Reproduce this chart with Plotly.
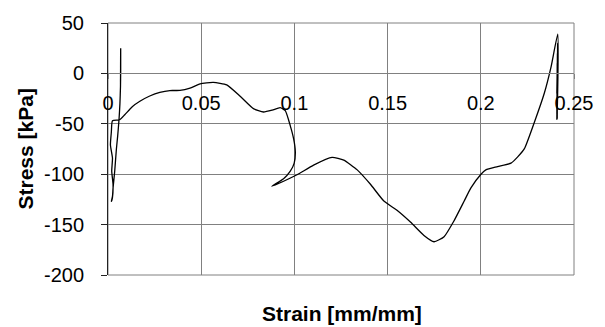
import plotly.graph_objects as go

# Strain [mm/mm] and stress [kPa]
strain = [
    0.0068, 0.0068, 0.0067, 0.0068, 0.0067, 0.0068, 0.0067, 0.0068, 0.0067,
    0.0068, 0.0067, 0.0068, 0.0067,
    0.0064, 0.0059, 0.0052, 0.0045, 0.0036, 0.0027, 0.0024, 0.0018,
    0.0024, 0.0027, 0.0020, 0.0024, 0.0013, 0.0018, 0.0024,
    0.0063, 0.0090, 0.0130, 0.0171, 0.0224, 0.0278, 0.0332, 0.0386, 0.0440,
    0.0494, 0.0565, 0.0637, 0.0709, 0.0780, 0.0834, 0.0881, 0.0924,
    0.0951, 0.0978, 0.0996, 0.1005, 0.0999, 0.0978, 0.0942, 0.0879,
    0.0942, 0.1014, 0.1103, 0.1202, 0.1265, 0.1337, 0.1408, 0.1480,
    0.1552, 0.1624, 0.1695, 0.1749, 0.1803, 0.1857, 0.1911, 0.1947,
    0.2001, 0.2027, 0.2090, 0.2162, 0.2198, 0.2234, 0.2287, 0.2341,
    0.2377, 0.2413, 0.2410, 0.2412, 0.2408, 0.2411, 0.2409, 0.2410,
    0.2409, 0.2411, 0.2408, 0.2410, 0.2409, 0.2410, 0.2408,
]
stress = [
    0, 25, -13, 18, -10, 12, -8, 5, -13,
    8, -12, 3, -13,
    -30, -46, -62, -75, -97, -114, -122, -127,
    -123, -110, -97, -84, -71, -58, -47,
    -46, -41, -33, -27.6, -22.4, -18.8, -17, -16.9, -14.6,
    -10.4, -9, -11.4, -22.7, -35, -38.3, -36.5, -34,
    -37, -52, -65, -78, -89, -97, -104.5, -112,
    -107, -100.6, -91, -83.4, -86, -95.7, -110, -126.6,
    -136, -147.7, -160.7, -167, -162, -146, -126.6, -113.6,
    -100, -95.7, -92.5, -89, -82.8, -74.7, -48.7, -19.5,
    6.5, 39, -45, 30, -40, 20, -35, 10,
    -25, 15, -20, 0, -30, 5, -46,
]

x_ticks = [0, 0.05, 0.1, 0.15, 0.2, 0.25]
x_tick_labels = ["0", "0.05", "0.1", "0.15", "0.2", "0.25"]
y_ticks = [-200, -150, -100, -50, 0, 50]
y_tick_labels = ["-200", "-150", "-100", "-50", "0", "50"]

fig = go.Figure()
fig.add_trace(go.Scatter(
    x=strain, y=stress, mode="lines",
    line=dict(color="black", width=1.3, shape="spline", smoothing=0.5),
    showlegend=False, hoverinfo="skip",
))

font = "Liberation Sans, Arial, sans-serif"
fig.update_layout(
    width=605, height=327,
    margin=dict(l=108, r=31, t=18, b=52),
    paper_bgcolor="white", plot_bgcolor="white",
    font=dict(family=font, size=20, color="black"),
    xaxis=dict(
        range=[0, 0.25], tickvals=x_ticks, ticktext=x_tick_labels,
        showgrid=True, gridcolor="#808080", gridwidth=1,
        zeroline=False, showline=True, linecolor="#808080", linewidth=1,
        anchor="free", position=0.8,
        ticks="outside", ticklen=5, tickcolor="#808080",
        ticklabelstandoff=7,
        tickfont=dict(size=20, family=font, color="black"),
    ),
    yaxis=dict(
        range=[-200, 50], tickvals=y_ticks, ticktext=y_tick_labels,
        showgrid=True, gridcolor="#808080", gridwidth=1,
        zeroline=False, showline=True, linecolor="#222222", linewidth=1,
        ticks="outside", ticklen=6, tickcolor="#222222",
        ticklabelstandoff=13,
        tickfont=dict(size=20, family=font, color="black"),
    ),
    shapes=[dict(type="rect", xref="paper", yref="paper", x0=0, x1=1, y0=0, y1=1,
                 line=dict(color="#808080", width=1), layer="below")],
    annotations=[
        dict(text="<b>Strain [mm/mm]</b>", xref="paper", yref="paper",
             x=(341.5 - 108) / 466, y=-(314 - 275) / 257, showarrow=False,
             xanchor="center", yanchor="middle",
             font=dict(size=21, family=font, color="black")),
        dict(text="<b>Stress [kPa]</b>", xref="paper", yref="paper",
             x=-(108 - 25) / 466, y=(275 - 147) / 257, showarrow=False,
             textangle=-90, xanchor="center", yanchor="middle",
             font=dict(size=21, family=font, color="black")),
    ],
)

fig.write_html("out.html")
